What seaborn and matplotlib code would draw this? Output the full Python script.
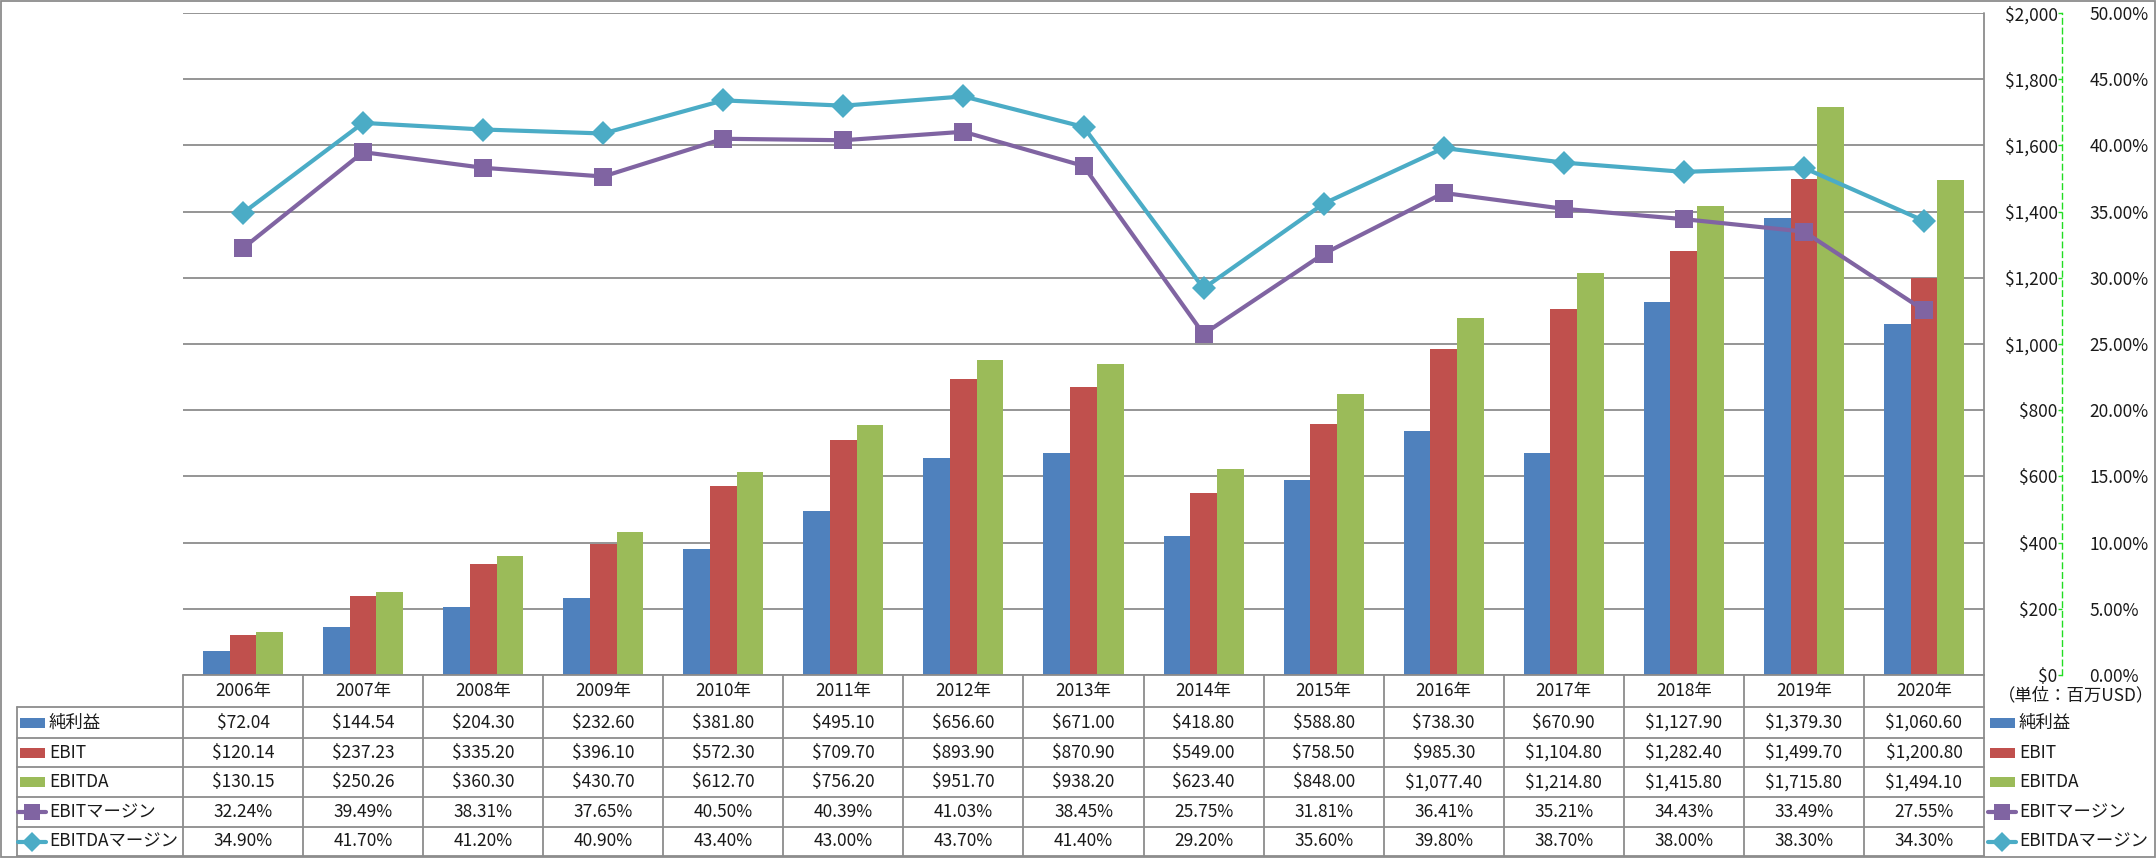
import numpy as np
import pandas as pd
import matplotlib
matplotlib.use("Agg")
import matplotlib.pyplot as plt
import seaborn as sns
from matplotlib.lines import Line2D
from matplotlib.patches import Rectangle
from matplotlib.ticker import FuncFormatter, MultipleLocator

years = ["2006年", "2007年", "2008年", "2009年", "2010年", "2011年", "2012年", "2013年",
         "2014年", "2015年", "2016年", "2017年", "2018年", "2019年", "2020年"]
net_income = [72.04, 144.54, 204.30, 232.60, 381.80, 495.10, 656.60, 671.00,
              418.80, 588.80, 738.30, 670.90, 1127.90, 1379.30, 1060.60]
ebit = [120.14, 237.23, 335.20, 396.10, 572.30, 709.70, 893.90, 870.90,
        549.00, 758.50, 985.30, 1104.80, 1282.40, 1499.70, 1200.80]
ebitda = [130.15, 250.26, 360.30, 430.70, 612.70, 756.20, 951.70, 938.20,
          623.40, 848.00, 1077.40, 1214.80, 1415.80, 1715.80, 1494.10]
ebit_margin = [32.24, 39.49, 38.31, 37.65, 40.50, 40.39, 41.03, 38.45,
               25.75, 31.81, 36.41, 35.21, 34.43, 33.49, 27.55]
ebitda_margin = [34.90, 41.70, 41.20, 40.90, 43.40, 43.00, 43.70, 41.40,
                 29.20, 35.60, 39.80, 38.70, 38.00, 38.30, 34.30]

bar_names = ["純利益", "EBIT", "EBITDA"]
line_names = ["EBITマージン", "EBITDAマージン"]
bar_colors = ["#4F81BD", "#C0504D", "#9BBB59"]
line_colors = ["#8064A2", "#4BACC6"]
line_markers = ["s", "D"]
line_msize = [13, 12]

W, H = 2156, 858
GRID = "#8C8C8C"
TXT = "#1A1A1A"
FS = 12.5

sns.set_theme(style="white")
plt.rcParams['font.family'] = ['Noto Sans CJK JP', 'DejaVu Sans']

fig = plt.figure(figsize=(W / 100, H / 100), dpi=100)


def box(x0, y0, x1, y1):
    return [x0 / W, 1 - y1 / H, (x1 - x0) / W, (y1 - y0) / H]


PX0, PX1, PY0, PY1 = 183, 1984, 13, 675

# bars
ax = fig.add_axes(box(PX0, PY0, PX1, PY1))
ax.set_facecolor("none")
df = pd.DataFrame({"year": years, bar_names[0]: net_income,
                   bar_names[1]: ebit, bar_names[2]: ebitda})
df = df.melt(id_vars="year", var_name="series", value_name="value")
sns.barplot(data=df, x="year", y="value", hue="series", hue_order=bar_names,
            palette=bar_colors, width=0.667, gap=0, saturation=1,
            linewidth=0, legend=False, ax=ax)

# margin lines
ax2 = ax.twinx()
margins = [ebit_margin, ebitda_margin]
for vals, c, m, ms in zip(margins, line_colors, line_markers, line_msize):
    sns.lineplot(x=np.arange(len(years)), y=np.array(vals) / 100, ax=ax2,
                 color=c, marker=m, markersize=ms, markeredgewidth=0,
                 linewidth=3, legend=False)

# dollar axis: labels on the right, left of the percent axis
ax.set_ylim(0, 2000)
ax.set_xlim(-0.5, len(years) - 0.5)
ax.yaxis.set_major_locator(MultipleLocator(200))
ax.yaxis.set_major_formatter(FuncFormatter(lambda v, p: f"${v:,.0f}"))
ax.yaxis.tick_right()
ax.tick_params(axis="y", left=False, right=False, labelleft=False, labelright=True,
               length=0, pad=53, labelsize=FS, labelcolor=TXT)
for lab in ax.get_yticklabels():
    lab.set_horizontalalignment("right")
ax.tick_params(axis="x", bottom=False, labelbottom=False)
ax.set_xlabel("")
ax.set_ylabel("")
ax.grid(axis="y", color=GRID, linewidth=1.3)
ax.grid(axis="x", visible=False)
ax.set_axisbelow(True)
for s in ax.spines.values():
    s.set_visible(False)

# percent axis
ax2.set_ylim(0, 0.5)
ax2.yaxis.set_major_locator(MultipleLocator(0.05))
ax2.yaxis.set_major_formatter(FuncFormatter(lambda v, p: f"{v * 100:.2f}%"))
ax2.set_ylabel("")
ax2.grid(False)
for k in ["top", "left", "bottom"]:
    ax2.spines[k].set_visible(False)
ax2.spines["right"].set_position(("outward", 56))
ax2.spines["right"].set_color("#22DD22")
ax2.spines["right"].set_linestyle((0, (4, 3)))
ax2.spines["right"].set_linewidth(1)
ax2.tick_params(axis="y", direction="in", length=3, width=1, color="#22DD22",
                pad=20, labelsize=FS, labelcolor=TXT, right=True)

# data table and legends drawn in pixel space
ov = fig.add_axes([0, 0, 1, 1], zorder=5)
ov.set_xlim(0, W)
ov.set_ylim(H, 0)
ov.axis("off")
ov.set_facecolor("none")

xs = np.linspace(PX0, PX1, len(years) + 1)
ys = [675, 707, 738, 767, 797, 827, 856]
lk = dict(color=GRID, linewidth=1.3)
ov.add_line(Line2D([PX0, PX1], [ys[0], ys[0]], **lk))
for y in ys[1:]:
    ov.add_line(Line2D([17, PX1], [y, y], **lk))
for x in xs:
    ov.add_line(Line2D([x, x], [ys[0], ys[-1]], **lk))
ov.add_line(Line2D([17, 17], [ys[1], ys[-1]], **lk))
ov.add_line(Line2D([PX1, PX1], [PY0, ys[0]], **lk))
ov.add_patch(Rectangle((1, 1), W - 2.5, H - 2.5, fill=False, edgecolor=GRID, linewidth=1.3))

centers = (xs[:-1] + xs[1:]) / 2
for cx, yr in zip(centers, years):
    ov.text(cx, (ys[0] + ys[1]) / 2, yr, ha="center", va="center", fontsize=FS, color=TXT)

rows = [[f"${v:,.2f}" for v in net_income],
        [f"${v:,.2f}" for v in ebit],
        [f"${v:,.2f}" for v in ebitda],
        [f"{v:.2f}%" for v in ebit_margin],
        [f"{v:.2f}%" for v in ebitda_margin]]
row_c = [(ys[i] + ys[i + 1]) / 2 for i in range(1, 6)]
for rc, vals in zip(row_c, rows):
    for cx, t in zip(centers, vals):
        ov.text(cx, rc, t, ha="center", va="center", fontsize=FS, color=TXT)


def legend_keys(x0, tx):
    for i, (name, c) in enumerate(zip(bar_names, bar_colors)):
        ov.add_patch(Rectangle((x0, row_c[i] - 5), 25, 10, color=c, linewidth=0))
        ov.text(tx, row_c[i], name, ha="left", va="center", fontsize=FS, color=TXT)
    for j, (name, c, m, ms) in enumerate(zip(line_names, line_colors, line_markers, line_msize)):
        rc = row_c[3 + j]
        ov.add_line(Line2D([x0 - 2, x0 + 26], [rc, rc], color=c, linewidth=3))
        ov.add_line(Line2D([x0 + 12], [rc], color=c, marker=m, markersize=ms * 0.85,
                           markeredgewidth=0, linestyle="none"))
        ov.text(tx, rc, name, ha="left", va="center", fontsize=FS, color=TXT)


legend_keys(20, 49)
legend_keys(1990, 2019)
ov.text(1998, 695, "（単位：百万USD）", ha="left", va="center", fontsize=12.5, color=TXT)

fig.savefig("out.png", dpi=100)
